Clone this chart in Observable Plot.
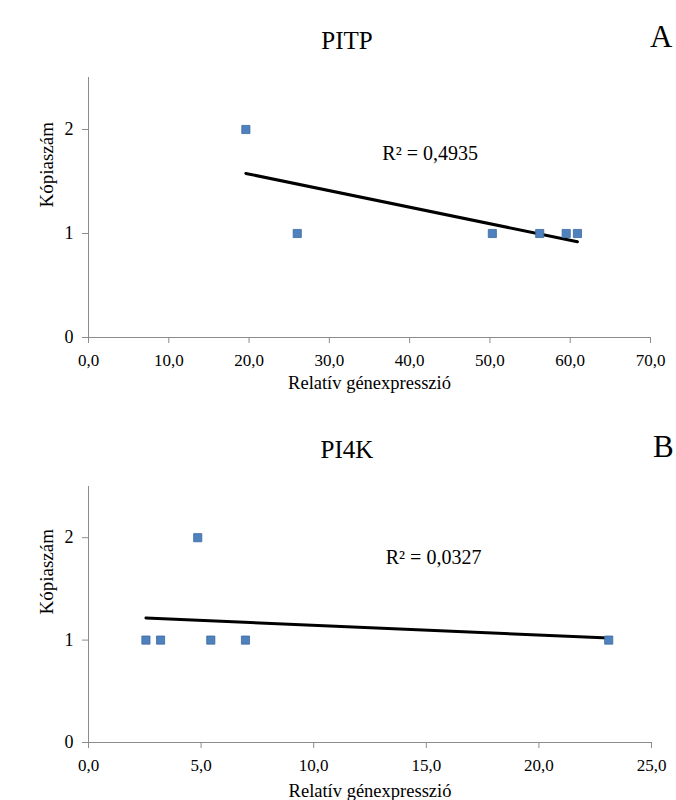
<!DOCTYPE html>
<html>
<head>
<meta charset="utf-8">
<script src="https://cdn.jsdelivr.net/npm/d3@7"></script>
<script src="https://cdn.jsdelivr.net/npm/@observablehq/plot@0.6"></script>
<style>
  html, body { margin: 0; padding: 0; background: white; }
  #page { position: relative; width: 676px; height: 800px; overflow: hidden;
          font-family: "Liberation Serif", "Times New Roman", serif; color: black; }
  .title { position: absolute; font-size: 25px; line-height: 25px; white-space: nowrap; transform: translateX(-50%); }
  .letter { position: absolute; font-size: 31px; line-height: 31px; }
  .panel { position: absolute; left: 0; }
  .edge { position: absolute; left: 12px; top: 22px; width: 0; height: 400px; border-left: 1px solid #eeeeee; }
  svg text { font-family: "Liberation Serif", "Times New Roman", serif !important; }
</style>
</head>
<body>
<div id="page">
  <div class="edge"></div>
  <div class="panel" id="panelA" style="top:0px"></div>
  <div class="panel" id="panelB" style="top:400px"></div>
  <div class="title" id="titleA" style="left:347px; top:28px"></div>
  <div class="letter" id="letterA" style="left:650px; top:21px"></div>
  <div class="title" id="titleB" style="left:347px; top:437px"></div>
  <div class="letter" id="letterB" style="left:653px; top:431px"></div>
</div>
<script>
// ---- data ----
const titles = ["PITP", "PI4K"];
const panelLetters = ["A", "B"];
const xAxisLabel = "Relatív génexpresszió";
const yAxisLabel = "Kópiaszám";

const pitpX = [19.6, 26.0, 50.3, 56.2, 59.5, 60.9];
const pitpY = [2, 1, 1, 1, 1, 1];
const pitpR2 = "R² = 0,4935";
const pitpXTicks = [0, 10, 20, 30, 40, 50, 60, 70];

const pi4kX = [2.55, 3.2, 4.85, 5.43, 6.97, 23.1];
const pi4kY = [1, 1, 2, 1, 1, 1];
const pi4kR2 = "R² = 0,0327";
const pi4kXTicks = [0, 5, 10, 15, 20, 25];

const yTicks = [0, 1, 2];

// ---- styling ----
const axisGray = "#8c8c8c";
const markerFill = "#4F81BD";
const markerStroke = "#3C6AA3";
const fontFamily = "'Liberation Serif', 'Times New Roman', serif";
const fmt = d => d.toFixed(1).replace(".", ",");

function makeChart(xs, ys, xTicks, r2, r2Pos, m, labelDy) {
  const data = xs.map((x, i) => ({x, y: ys[i]}));
  return Plot.plot({
    width: 676,
    height: 400,
    marginTop: m.top,
    marginBottom: m.bottom,
    marginLeft: m.left,
    marginRight: m.right,
    style: {background: "white", fontFamily, color: "black", overflow: "visible"},
    x: {domain: [xTicks[0], xTicks[xTicks.length - 1]]},
    y: {domain: [0, 2.5]},
    marks: [
      Plot.ruleY([0], {stroke: axisGray, strokeWidth: 1}),
      Plot.ruleX([0], {stroke: axisGray, strokeWidth: 1}),
      Plot.axisX({ticks: xTicks, tickFormat: fmt, tickSize: 6, tickPadding: 10,
                  stroke: axisGray, fill: "black", fontSize: 17, label: null}),
      Plot.axisY({ticks: yTicks, tickFormat: d => String(d), tickSize: 6, tickPadding: 9,
                  stroke: axisGray, fill: "black", fontSize: 18, label: null}),
      Plot.linearRegressionY(data, {x: "x", y: "y", stroke: "black", strokeWidth: 3, ci: 0}),
      Plot.dot(data, {x: "x", y: "y", symbol: "square", r: 4.6, fill: markerFill,
                      stroke: markerStroke, strokeWidth: 0.8}),
      Plot.text([r2], {x: () => r2Pos[0], y: () => r2Pos[1], text: d => d, textAnchor: "start",
                       fontSize: 20, fill: "black"}),
      Plot.text([xAxisLabel], {frameAnchor: "bottom", dy: labelDy, text: d => d, fontSize: 18.5, fill: "black"}),
      Plot.text([yAxisLabel], {frameAnchor: "left", dx: -42, rotate: -90, text: d => d, fontSize: 19, fill: "black"})
    ]
  });
}

document.getElementById("titleA").textContent = titles[0];
document.getElementById("titleB").textContent = titles[1];
document.getElementById("letterA").textContent = panelLetters[0];
document.getElementById("letterB").textContent = panelLetters[1];

document.getElementById("panelA").appendChild(
  makeChart(pitpX, pitpY, pitpXTicks, pitpR2, [36.6, 1.77],
            {top: 77, bottom: 63, left: 88, right: 26}, 51));
document.getElementById("panelB").appendChild(
  makeChart(pi4kX, pi4kY, pi4kXTicks, pi4kR2, [13.2, 1.81],
            {top: 86, bottom: 58, left: 88, right: 25}, 54));
</script>
</body>
</html>
